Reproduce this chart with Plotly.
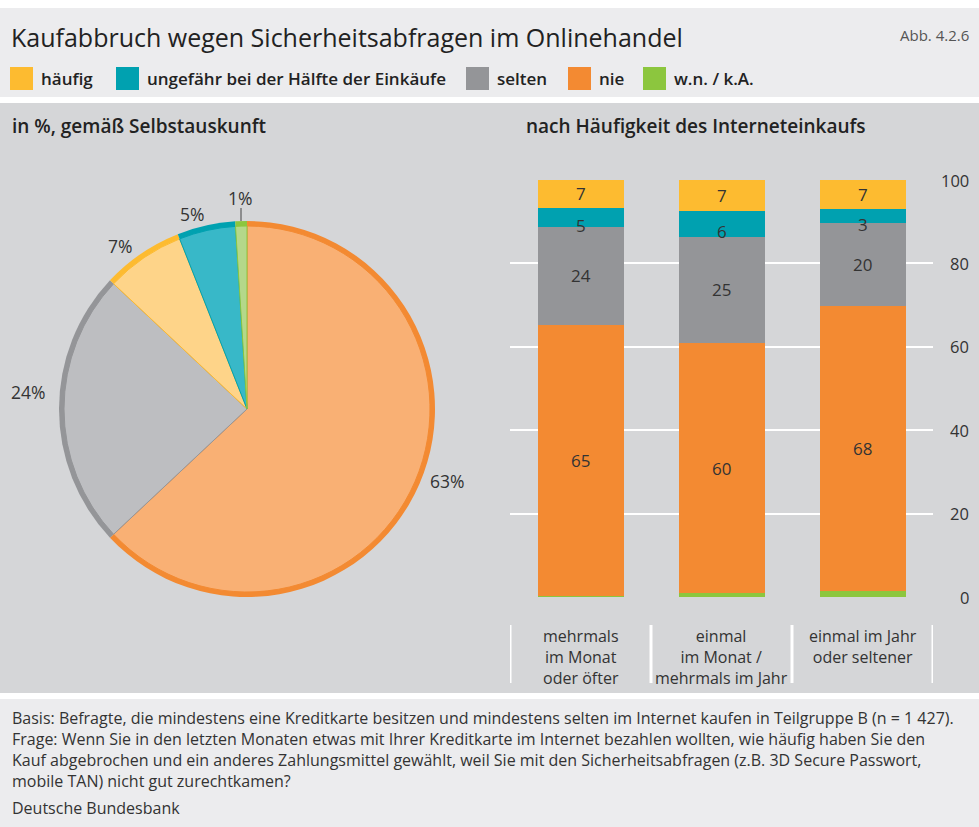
import plotly.graph_objects as go

W, H = 979, 827

# ---------------- data ----------------
series_names = ["häufig", "ungefähr bei der Hälfte der Einkäufe", "selten", "nie", "w.n. / k.A."]

pie_labels = ["nie", "selten", "häufig", "ungefähr bei der Hälfte der Einkäufe", "w.n. / k.A."]
pie_values = [63, 24, 7, 5, 1]

categories = ["mehrmals<br>im Monat<br>oder öfter",
              "einmal<br>im Monat /<br>mehrmals im Jahr",
              "einmal im Jahr<br>oder seltener"]

bar_wnka = [0.2, 0.9, 1.4]
bar_nie = [65.0, 60.0, 68.4]
bar_selten = [23.6, 25.5, 19.8]
bar_haelfte = [4.6, 6.1, 3.4]
bar_haeufig = [6.6, 7.5, 7.0]

label_nie = [65, 60, 68]
label_selten = [24, 25, 20]
label_haelfte = [5, 6, 3]
label_haeufig = [7, 7, 7]

y_ticks = [0, 20, 40, 60, 80, 100]

# ---------------- styles ----------------
FONT = "Open Sans"
TXT = "#333333"
dark = {"häufig": "#fdbb30", "ungefähr bei der Hälfte der Einkäufe": "#00a1b0",
        "selten": "#949598", "nie": "#f38a32", "w.n. / k.A.": "#8cc63e"}
light = {"häufig": "#fed489", "ungefähr bei der Hälfte der Einkäufe": "#38b8c8",
         "selten": "#bdbec1", "nie": "#f9b074", "w.n. / k.A.": "#b4d88a"}


def px(x):
    return x / W


def py(y):
    return 1 - y / H


fig = go.Figure()

# ---------------- pie ----------------
cx, cy, R, B = 247, 409, 188, 5
fig.add_trace(go.Pie(
    labels=pie_labels, values=pie_values, sort=False, direction="clockwise", rotation=0,
    marker=dict(colors=[dark[l] for l in pie_labels], line=dict(width=0)),
    textinfo="none", hoverinfo="label+percent", showlegend=False,
    domain=dict(x=[px(cx - R), px(cx + R)], y=[py(cy + R), py(cy - R)]),
))
r2 = R - B
fig.add_trace(go.Pie(
    labels=pie_labels, values=pie_values, sort=False, direction="clockwise", rotation=0,
    marker=dict(colors=[light[l] for l in pie_labels],
                line=dict(width=1, color=[dark[l] for l in pie_labels])),
    textinfo="none", hoverinfo="label+percent", showlegend=False,
    domain=dict(x=[px(cx - r2), px(cx + r2)], y=[py(cy + r2), py(cy - r2)]),
))

# ---------------- bars ----------------
xs = list(range(len(categories)))
stack = [("w.n. / k.A.", bar_wnka, None),
         ("nie", bar_nie, label_nie),
         ("selten", bar_selten, label_selten),
         ("ungefähr bei der Hälfte der Einkäufe", bar_haelfte, label_haelfte),
         ("häufig", bar_haeufig, label_haeufig)]

annotations = []
base = [0.0] * len(xs)
for name, vals, labs in stack:
    fig.add_trace(go.Bar(
        x=xs, y=vals, name=name, marker=dict(color=dark[name], line=dict(width=0)),
        width=0.61, xaxis="x", yaxis="y", showlegend=False,
    ))
    if labs is not None:
        for i, (v, lab) in enumerate(zip(vals, labs)):
            annotations.append(dict(
                x=xs[i], y=base[i] + v / 2, xref="x", yref="y", text=str(lab),
                xanchor="center", yanchor="middle",
                showarrow=False, font=dict(family=FONT, size=17, color=TXT),
                yshift=-8 if v < 6.5 else 0,
            ))
    base = [b + v for b, v in zip(base, vals)]

for t in y_ticks:
    annotations.append(dict(x=px(971), y=t, xref="paper", yref="y", text=str(t),
                            xanchor="right", yanchor="middle", showarrow=False,
                            font=dict(family=FONT, size=16.5, color=TXT)))

for i, c in enumerate(categories):
    annotations.append(dict(x=xs[i], y=py(623), xref="x", yref="paper", text=c,
                            xanchor="center", yanchor="top", showarrow=False,
                            font=dict(family=FONT, size=16, color=TXT)))

shapes = []
# background bands
shapes.append(dict(type="rect", xref="paper", yref="paper", x0=0, x1=1, y0=py(97), y1=py(8),
                   fillcolor="#ececee", line=dict(width=0), layer="below"))
shapes.append(dict(type="rect", xref="paper", yref="paper", x0=0, x1=1, y0=py(693), y1=py(103),
                   fillcolor="#d5d6d8", line=dict(width=0), layer="below"))
shapes.append(dict(type="rect", xref="paper", yref="paper", x0=0, x1=1, y0=0, y1=py(699),
                   fillcolor="#ececee", line=dict(width=0), layer="below"))
# category separators
for b in [-0.5, 0.5, 1.5, 2.5]:
    shapes.append(dict(type="line", xref="x", yref="paper", x0=b, x1=b, y0=py(625), y1=py(683),
                       line=dict(color="white", width=3)))

# legend
legend_items = [("häufig", 10), ("ungefähr bei der Hälfte der Einkäufe", 116), ("selten", 466),
                ("nie", 568), ("w.n. / k.A.", 643)]
for name, x0 in legend_items:
    shapes.append(dict(type="rect", xref="paper", yref="paper", x0=px(x0), x1=px(x0 + 23),
                       y0=py(90), y1=py(67), fillcolor=dark[name], line=dict(width=0)))
    annotations.append(dict(x=px(x0 + 29), y=py(78), xref="paper", yref="paper", text=name,
                            xanchor="left", yanchor="middle", showarrow=False,
                            font=dict(family=FONT, size=17, color="#222222", weight=600)))

# pie labels
pie_label_pos = [(447, 481), (28, 392), (120, 246), (192, 214), (240, 198)]
for v, (lx, ly) in zip(pie_values, pie_label_pos):
    annotations.append(dict(x=px(lx), y=py(ly), xref="paper", yref="paper", text=f"{v}%",
                            xanchor="center", yanchor="middle",
                            showarrow=False, font=dict(family=FONT, size=17.5, color=TXT)))
shapes.append(dict(type="line", xref="paper", yref="paper", x0=px(241), x1=px(241),
                   y0=py(221), y1=py(208), line=dict(color="#444444", width=1)))

# titles
annotations += [
    dict(x=px(9), y=py(37), xref="paper", yref="paper", text="Kaufabbruch wegen Sicherheitsabfragen im Onlinehandel",
         xanchor="left", yanchor="middle", showarrow=False, font=dict(family=FONT, size=25, color="#222222")),
    dict(x=px(971), y=py(35), xref="paper", yref="paper", text="Abb. 4.2.6",
         xanchor="right", yanchor="middle", showarrow=False, font=dict(family=FONT, size=15, color="#555555")),
    dict(x=px(10), y=py(126), xref="paper", yref="paper", text="in %, gemäß Selbstauskunft",
         xanchor="left", yanchor="middle", showarrow=False, font=dict(family=FONT, size=19, color="#222222", weight=600)),
    dict(x=px(524), y=py(126), xref="paper", yref="paper", text="nach Häufigkeit des Interneteinkaufs",
         xanchor="left", yanchor="middle", showarrow=False, font=dict(family=FONT, size=19, color="#222222", weight=600)),
]

footer_lines = [
    "Basis: Befragte, die mindestens eine Kreditkarte besitzen und mindestens selten im Internet kaufen in Teilgruppe B (n = 1 427).",
    "Frage: Wenn Sie in den letzten Monaten etwas mit Ihrer Kreditkarte im Internet bezahlen wollten, wie häufig haben Sie den",
    "Kauf abgebrochen und ein anderes Zahlungsmittel gewählt, weil Sie mit den Sicherheitsabfragen (z.B. 3D Secure Passwort,",
    "mobile TAN) nicht gut zurechtkamen?",
]
for k, line in enumerate(footer_lines):
    annotations.append(dict(x=px(10), y=py(718 + 21 * k), xref="paper", yref="paper", text=line,
                            xanchor="left", yanchor="middle", showarrow=False,
                            font=dict(family=FONT, size=16, color=TXT)))
annotations.append(dict(x=px(10), y=py(808), xref="paper", yref="paper", text="Deutsche Bundesbank",
                        xanchor="left", yanchor="middle", showarrow=False,
                        font=dict(family=FONT, size=16, color=TXT)))

fig.update_layout(
    width=W, height=H, margin=dict(l=0, r=0, t=0, b=0),
    paper_bgcolor="white", plot_bgcolor="rgba(0,0,0,0)",
    barmode="stack", bargap=0,
    xaxis=dict(domain=[px(510), px(933)], range=[-0.5, 2.5], showticklabels=False,
               showgrid=False, zeroline=False, fixedrange=True),
    yaxis=dict(domain=[py(597), py(180)], range=[0, 100], tickvals=y_ticks, showticklabels=False,
               showgrid=True, gridcolor="white", gridwidth=2, zeroline=False, fixedrange=True),
    shapes=shapes, annotations=annotations,
    font=dict(family=FONT, color=TXT),
    showlegend=False,
)

fig.write_html("out.html", config={"displayModeBar": False},
               post_script="document.body.style.margin='0';document.body.style.overflow='hidden';")
